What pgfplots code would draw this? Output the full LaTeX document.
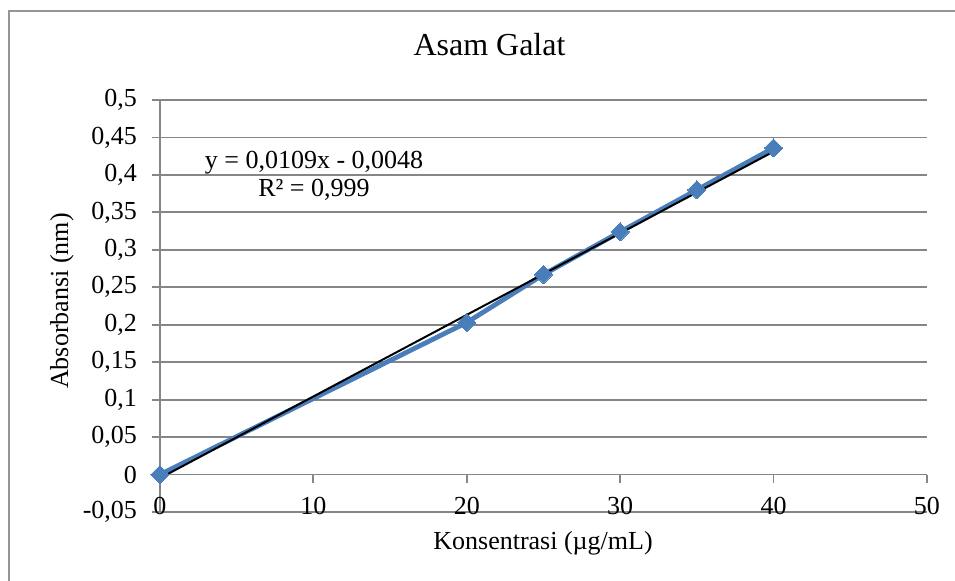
\documentclass[border=0pt]{standalone}
\usepackage{pgfplots}
\pgfplotsset{compat=1.18}
\usepackage{fontspec}
\setmainfont{Liberation Serif}
\definecolor{gridgray}{HTML}{868686}
\definecolor{bordergray}{HTML}{959595}
\definecolor{exblue}{HTML}{4A7EBB}
\begin{document}
\begin{tikzpicture}
\useasboundingbox (-80pt,-34pt) rectangle (397.5pt,256pt);
\draw[bordergray, line width=1pt] (-75.25pt,-40pt) -- (-75.25pt,250.75pt) -- (400pt,250.75pt);
\begin{axis}[
  at={(0,0)}, anchor=south west,
  scale only axis,
  width=383.5pt, height=206pt,
  xmin=0, xmax=50, ymin=-0.05, ymax=0.5,
  axis x line=middle, axis y line=left,
  axis line style={-, gridgray, line width=0.9pt},
  hide obscured x ticks=false,
  hide obscured y ticks=false,
  xtick={0,10,20,30,40,50},
  xticklabels={0,10,20,30,40,50},
  ytick={-0.05,0,0.05,0.1,0.15,0.2,0.25,0.3,0.35,0.4,0.45,0.5},
  yticklabels={{-0,05},{0},{0,05},{0,1},{0,15},{0,2},{0,25},{0,3},{0,35},{0,4},{0,45},{0,5}},
  ymajorgrids,
  major grid style={gridgray, line width=0.9pt},
  tick align=outside,
  major tick length=4pt,
  tick style={gridgray, line width=0.9pt},
  tick label style={font=\fontsize{13}{15}\selectfont, text=black},
  xticklabel style={anchor=north, yshift=-4pt},
  yticklabel style={anchor=east, xshift=-4pt},
  title={Asam Galat},
  title style={at={(0.4296,1)}, anchor=center, yshift=21.5pt, font=\fontsize{16}{19}\selectfont},
  xlabel={Konsentrasi (µg/mL)},
  ylabel={Absorbansi (nm)},
  every axis x label/.style={at={(axis description cs:0.4994,-0.0752)}, anchor=center, font=\fontsize{13}{15}\selectfont},
  every axis y label/.style={at={(axis description cs:-0.1278,0.512)}, anchor=center, rotate=90, font=\fontsize{13}{15}\selectfont},
  clip=false,
]
\addplot[exblue, line width=2.4pt, mark=square*, mark size=3.2pt, mark options={rotate=45, fill=exblue, draw=exblue, line width=0pt}]
  coordinates {(0,0) (20,0.203) (25,0.267) (30,0.324) (35,0.380) (40,0.436)};
\addplot[black, line width=1pt] coordinates {(0,-0.0048) (40,0.4312)};
\node[align=center, font=\fontsize{13}{14.2}\selectfont, inner sep=0pt] at (axis cs:10.04,0.399) {y = 0,0109x - 0,0048\\R² = 0,999};
\end{axis}
\end{tikzpicture}
\end{document}
